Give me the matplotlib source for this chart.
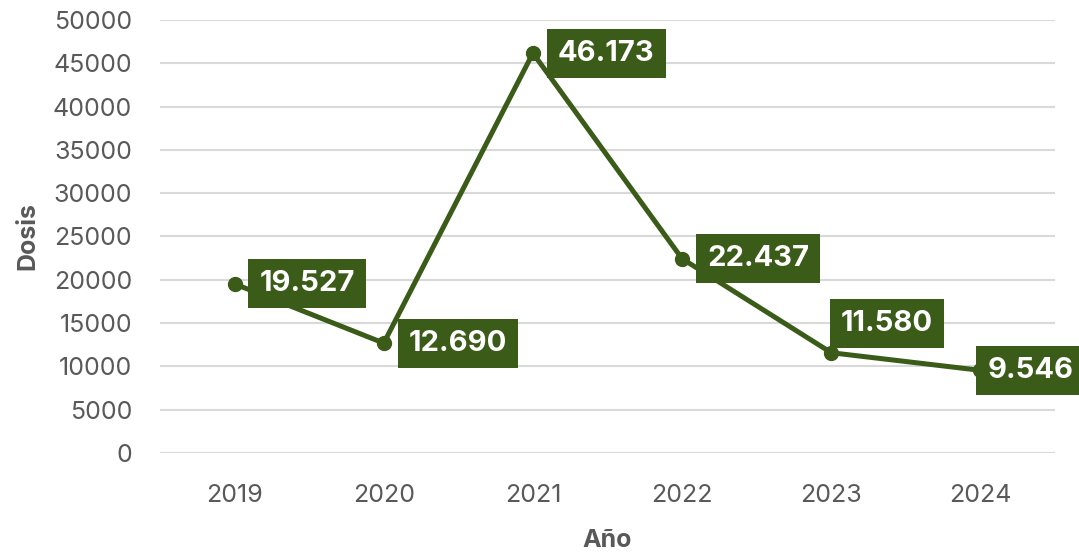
import matplotlib.pyplot as plt

years = ["2019", "2020", "2021", "2022", "2023", "2024"]
dosis = [19527, 12690, 46173, 22437, 11580, 9546]
labels = ["19.527", "12.690", "46.173", "22.437", "11.580", "9.546"]

green = "#3B5B19"
grey = "#595959"

plt.rcParams['font.family'] = ['Inter', 'DejaVu Sans']

fig = plt.figure(figsize=(10.79, 5.52), dpi=100)
ax = fig.add_axes([160 / 1079, 1 - 453 / 552, 895 / 1079, 433 / 552])

x = list(range(len(years)))
ax.plot(x, dosis, color=green, lw=3.6, marker="o", ms=10, zorder=3)

# label offsets in points (box placement)
offsets = [(18, 0), (18, 0), (18, 0), (18, 0), (7, 21), (5, 0)]
for xi, yi, lab, off in zip(x, dosis, labels, offsets):
    ax.annotate(lab, (xi, yi), xytext=off, textcoords="offset points",
                ha="left", va="center", color="white", fontsize=21,
                fontweight="bold", zorder=4, annotation_clip=False,
                bbox=dict(boxstyle="square,pad=0.38", fc=green, ec="none"))

ax.set_xlim(-0.5, 5.5)
ax.set_ylim(0, 50000)
ax.set_yticks(range(0, 50001, 5000))
ax.set_xticks(x)
ax.set_xticklabels(years)
ax.grid(axis="y", color="#D9D9D9", lw=1.5)
ax.set_axisbelow(True)
for s in ax.spines.values():
    s.set_visible(False)
ax.tick_params(length=0, labelsize=18, labelcolor=grey)
ax.tick_params(axis="y", pad=20)
ax.tick_params(axis="x", pad=22)

ax.set_xlabel("Año", fontsize=18, fontweight="bold", color=grey, labelpad=16)
ax.set_ylabel("Dosis", fontsize=18, fontweight="bold", color=grey, labelpad=10)

fig.savefig("out.png", dpi=100)
